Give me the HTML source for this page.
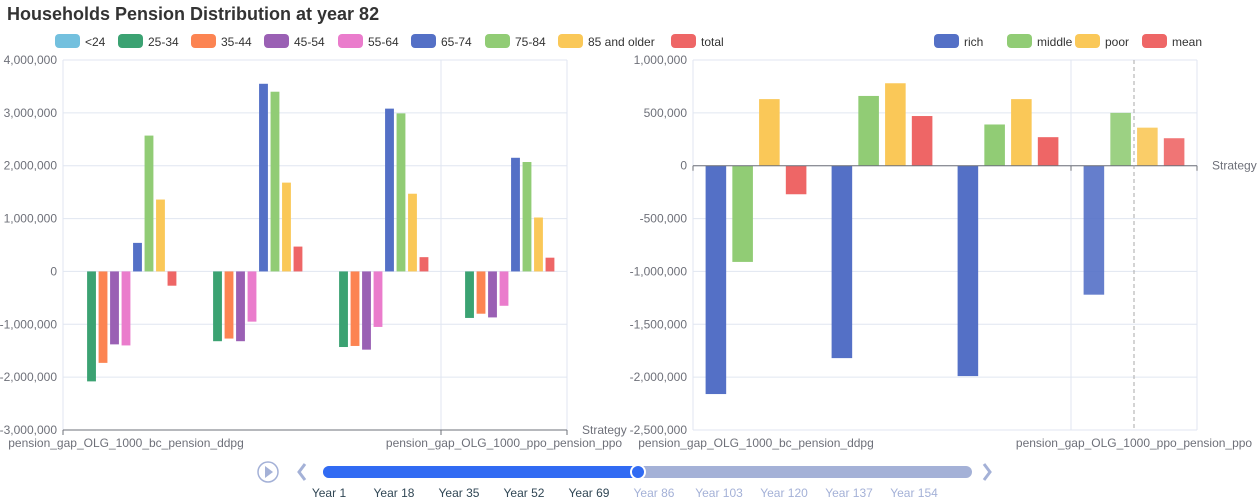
<!DOCTYPE html>
<html><head><meta charset="utf-8"><style>
body{margin:0;width:1260px;height:500px;overflow:hidden;background:#fff;font-family:"Liberation Sans",sans-serif;}
svg{display:block}
</style></head><body>
<svg id="c" width="1260" height="500" xmlns="http://www.w3.org/2000/svg" font-family="Liberation Sans, sans-serif">
<text x="7" y="20" font-size="18" font-weight="bold" fill="#333">Households Pension Distribution at year 82</text>
</svg>
<script>
const categories=["pension_gap_OLG_1000_bc_pension_ddpg","c2","c3","pension_gap_OLG_1000_ppo_pension_ppo"];
const ageSeries=["<24","25-34","35-44","45-54","55-64","65-74","75-84","85 and older","total"];
const ageColors=["#73c0de","#3ba272","#fc8452","#9a60b4","#ea7ccc","#5470c6","#91cc75","#fac858","#ee6666"];
const v_lt24=[0,0,0,0];
const v_25_34=[-2080000,-1320000,-1430000,-880000];
const v_35_44=[-1730000,-1270000,-1410000,-800000];
const v_45_54=[-1380000,-1320000,-1480000,-870000];
const v_55_64=[-1400000,-950000,-1050000,-650000];
const v_65_74=[540000,3550000,3080000,2150000];
const v_75_84=[2570000,3400000,2990000,2070000];
const v_85plus=[1360000,1680000,1470000,1020000];
const v_total=[-270000,470000,270000,260000];
const leftTicks=[4000000,3000000,2000000,1000000,0,-1000000,-2000000,-3000000];
const classSeries=["rich","middle","poor","mean"];
const classColors=["#5470c6","#91cc75","#fac858","#ee6666"];
const v_rich=[-2160000,-1820000,-1990000,-1220000];
const v_middle=[-910000,660000,390000,500000];
const v_poor=[630000,780000,630000,360000];
const v_mean=[-270000,470000,270000,260000];
const rightTicks=[1000000,500000,0,-500000,-1000000,-1500000,-2000000,-2500000];
const years=["Year 1","Year 18","Year 35","Year 52","Year 69","Year 86","Year 103","Year 120","Year 137","Year 154"];

const svg=document.getElementById('c');const NS="http://www.w3.org/2000/svg";
function mk(t,a,p){const e=document.createElementNS(NS,t);for(const k in a)e.setAttribute(k,a[k]);(p||svg).appendChild(e);return e;}
function fmt(v){return v.toLocaleString('en-US');}

function chart(x0,x1,yTop,yBot,max,min,ticks,seriesNames,colors,vals,name,axisAtZero,hoverLast){
  const g=mk('g',{});
  
  
  const y=v=>yTop+(max-v)/(max-min)*(yBot-yTop);
  const bw=(x1-x0)/categories.length;
  ticks.forEach(t=>{
    const l=mk('line',{x1:x0,x2:x1,y1:y(t),y2:y(t),stroke:'#e0e6f1'},g);
    
    const tx=mk('text',{x:x0-6,y:y(t)+4,'text-anchor':'end','font-size':12,fill:'#6e7079'},g);
    tx.textContent=fmt(t);
    
  });
  mk('line',{x1:x0,x2:x0,y1:yTop,y2:yBot,stroke:'#e0e6f1'},g);
  mk('line',{x1:x1,x2:x1,y1:yTop,y2:yBot,stroke:'#e0e6f1'},g);
  mk('line',{x1:x0+bw*3,x2:x0+bw*3,y1:yTop,y2:yBot,stroke:'#e0e6f1'},g);
  const n=seriesNames.length;const inner=bw*0.8;const w=inner/(n+(n-1)*0.3);const gap=w*0.3;
  vals.forEach((arr,si)=>{
    arr.forEach((v,ci)=>{
      if(!v)return;
      const bx=x0+bw*ci+bw*0.1+si*(w+gap);
      const yz=y(0),yv=y(v);
      const r=mk('rect',{x:bx,y:Math.min(yz,yv),width:w,height:Math.abs(yv-yz),fill:colors[si],opacity:(hoverLast&&ci===3)?0.9:1},g);
      
      
    });
  });
  const ay=axisAtZero?y(0):yBot;
  const ax=mk('line',{x1:x0,x2:x1,y1:ay,y2:ay,stroke:'#6e7079'},g);
  
  [0,3,4].forEach(i=>mk('line',{x1:x0+bw*i,x2:x0+bw*i,y1:ay,y2:ay+5,stroke:'#6e7079'},g));
  [0,3].forEach(ci=>{
    const t=mk('text',{x:x0+bw*ci+bw/2,y:yBot+17,'text-anchor':'middle','font-size':12,fill:'#6e7079'},g);
    t.textContent=categories[ci];
    
  });
  const st=mk('text',{x:x1+15,y:ay+4,'font-size':12,fill:'#6e7079'},g);
  st.textContent='Strategy';
  
  return g;
}
chart(63,567,60,430,4000000,-3000000,leftTicks,ageSeries,ageColors,[v_lt24,v_25_34,v_35_44,v_45_54,v_55_64,v_65_74,v_75_84,v_85plus,v_total],'age-bar-chart',false,false);
chart(693,1197,60,430,1000000,-2500000,rightTicks,classSeries,classColors,[v_rich,v_middle,v_poor,v_mean],'class-bar-chart',true,true);
const dl=mk('line',{x1:1134,x2:1134,y1:60,y2:430,stroke:'#aaa','stroke-dasharray':'4,3'});


function legend(names,colors,xs){
  names.forEach((n,i)=>{
    const g=mk('g',{});
    
    
    mk('rect',{x:xs[i],y:34,width:25,height:14,rx:4,fill:colors[i]},g);
    const t=mk('text',{x:xs[i]+30,y:46,'font-size':12,fill:'#333'},g);t.textContent=n;
  });
}
legend(ageSeries,ageColors,[55,118,191,264,338,411,485,558,671]);
legend(classSeries,classColors,[934,1007,1075,1142]);

// timeline
const tl=mk('g',{});

mk('circle',{cx:268,cy:472,r:10,fill:'none',stroke:'#a4b1d7','stroke-width':1.5},tl);
mk('path',{d:'M265 466 L273 472 L265 478 Z',fill:'#a4b1d7'},tl);
mk('path',{d:'M305 464 L299 472 L305 480',fill:'none',stroke:'#a4b1d7','stroke-width':3},tl);
mk('path',{d:'M984 464 L990 472 L984 480',fill:'none',stroke:'#a4b1d7','stroke-width':3},tl);
mk('rect',{x:323,y:466,width:649,height:12,rx:6,fill:'#a4b1d7'},tl);
mk('rect',{x:323,y:466,width:316,height:12,rx:6,fill:'#316bf3'},tl);
const h=mk('circle',{cx:638,cy:472,r:7,fill:'#316bf3',stroke:'#fff','stroke-width':2},tl);

years.forEach((yy,i)=>{
  const t=mk('text',{x:329+i*65,y:497,'text-anchor':'middle','font-size':12,fill:i<5?'#304654':'#a4b1d7'},tl);
  t.textContent=yy;
  
  
});
</script>
</body></html>
